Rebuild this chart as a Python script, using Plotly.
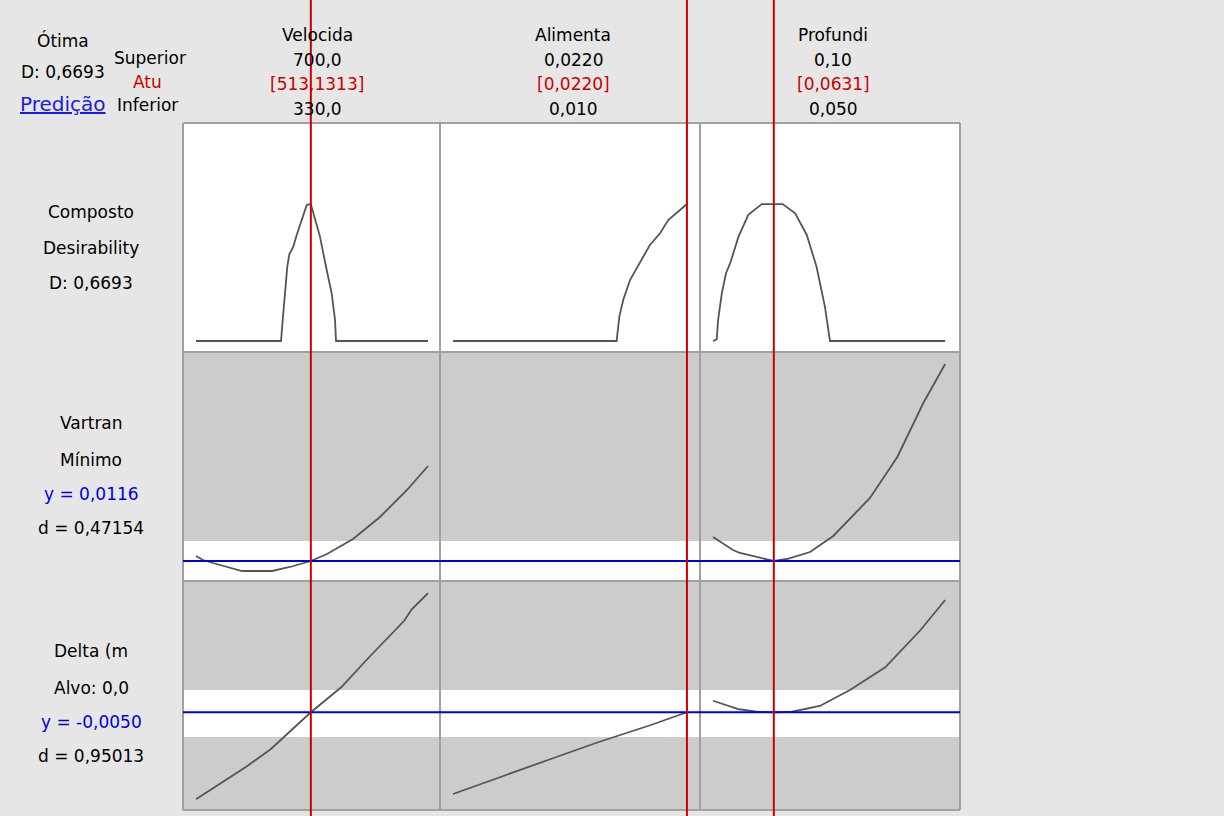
import plotly.graph_objects as go
from plotly.subplots import make_subplots

# ---- fatores (colunas) ----
factors = ["Velocida", "Alimenta", "Profundi"]
factor_high = ["700,0", "0,0220", "0,10"]
factor_low = ["330,0", "0,010", "0,050"]
factor_current_txt = ["[513,1313]", "[0,0220]", "[0,0631]"]
factor_current = [513.1313, 0.0220, 0.0631]
factor_ranges = [[309.3, 719.1], [0.00933, 0.02267], [0.0472, 0.1032]]

# ---- Composto (desirability) ----
comp_vel_x = [330, 465.6, 468.3, 471.9, 475.6, 478.8, 485.2, 490.6, 498.6, 506.6, 513.1,
              519.8, 527.7, 538.4, 546.4, 551.7, 553.3, 700]
comp_vel_y = [0, 0, 0.103, 0.233, 0.363, 0.424, 0.461, 0.518, 0.591, 0.664, 0.6693,
              0.599, 0.51, 0.347, 0.233, 0.103, 0, 0]
comp_ali_x = [0.0100, 0.01839, 0.01853, 0.01873, 0.01908, 0.01959, 0.0201, 0.02062, 0.02104, 0.0220]
comp_ali_y = [0, 0, 0.118, 0.2, 0.298, 0.38, 0.469, 0.526, 0.591, 0.6693]
comp_pro_x = [0.0500, 0.0508, 0.0511, 0.0519, 0.0528, 0.0537, 0.0555, 0.0576, 0.0605, 0.0631,
              0.0650, 0.0677, 0.0702, 0.0723, 0.0741, 0.0752, 0.1000]
comp_pro_y = [0, 0.008, 0.103, 0.233, 0.331, 0.38, 0.51, 0.616, 0.669, 0.6693,
              0.669, 0.624, 0.518, 0.363, 0.168, 0, 0]

# ---- Vartran (minimizar) ----
vart_vel_x = [330, 341.2, 357.1, 389.0, 403.4, 451.2, 479.9, 513.1, 538.9, 580.4, 623.4, 666.5, 700]
vart_vel_y = [0.01175, 0.01163, 0.01154, 0.01136, 0.01130, 0.01130, 0.01142, 0.01160,
              0.01181, 0.01226, 0.01292, 0.01373, 0.01445]
vart_ali_x = [0.0100, 0.0220]
vart_ali_y = [0.0116, 0.0116]
vart_pro_x = [0.0500, 0.0543, 0.0558, 0.0601, 0.0631, 0.0659, 0.0709, 0.0759, 0.0838, 0.0897, 0.0953, 0.1000]
vart_pro_y = [0.01232, 0.01193, 0.01184, 0.01169, 0.01160, 0.01166, 0.01187, 0.01235,
              0.01349, 0.01472, 0.01634, 0.01751]
vart_pred = 0.0116
vart_band = [0.0110, 0.0122]
vart_range = [0.0110, 0.01787]

# ---- Delta (alvo) ----
delta_vel_x = [330, 408.9, 449.1, 513.1, 561.6, 601.8, 662.0, 674.0, 700]
delta_vel_y = [-0.353, -0.225, -0.153, -0.005, 0.095, 0.204, 0.361, 0.407, 0.471]
delta_ali_x = [0.0100, 0.01253, 0.01512, 0.01744, 0.02015, 0.0220]
delta_ali_y = [-0.332, -0.26, -0.189, -0.125, -0.056, -0.005]
delta_pro_x = [0.0500, 0.0556, 0.0594, 0.0631, 0.0670, 0.0730, 0.0795, 0.0871, 0.0947, 0.1000]
delta_pro_y = [0.041, 0.007, -0.003, -0.005, -0.003, 0.02, 0.084, 0.175, 0.324, 0.444]
delta_pred = -0.0050
delta_band = [-0.104, 0.084]
delta_range = [-0.396, 0.52]

comp_range = [-0.0537, 1.065]

W, H = 1224, 816
BG = "#E6E6E6"
GRAY = "#CCCCCC"
BORDER = "#A0A0A0"
CURVE = "#555555"
RED = "#CC0000"
BLUE = "#0000E0"
FONT = "DejaVu Sans"

col_px = [183, 440, 700, 960]
row_px = [123, 352, 581, 810]

fig = make_subplots(rows=3, cols=3, horizontal_spacing=0, vertical_spacing=0)

curves = [
    [(comp_vel_x, comp_vel_y), (comp_ali_x, comp_ali_y), (comp_pro_x, comp_pro_y)],
    [(vart_vel_x, vart_vel_y), (vart_ali_x, vart_ali_y), (vart_pro_x, vart_pro_y)],
    [(delta_vel_x, delta_vel_y), (delta_ali_x, delta_ali_y), (delta_pro_x, delta_pro_y)],
]
row_ranges = [comp_range, vart_range, delta_range]

for r in range(3):
    for c in range(3):
        xs, ys = curves[r][c]
        fig.add_trace(
            go.Scatter(x=xs, y=ys, mode="lines", line=dict(color=CURVE, width=1.8),
                       hoverinfo="skip", showlegend=False),
            row=r + 1, col=c + 1,
        )
        idx = r * 3 + c + 1
        sfx = "" if idx == 1 else str(idx)
        fig.layout["xaxis" + sfx].update(
            domain=[col_px[c] / W, col_px[c + 1] / W], range=factor_ranges[c],
            showticklabels=False, showgrid=False, zeroline=False, ticks="", showline=False,
        )
        fig.layout["yaxis" + sfx].update(
            domain=[1 - row_px[r + 1] / H, 1 - row_px[r] / H], range=row_ranges[r],
            showticklabels=False, showgrid=False, zeroline=False, ticks="", showline=False,
        )

shapes = []
# fundo dos painéis
for r, color in [(0, "white"), (1, GRAY), (2, GRAY)]:
    shapes.append(dict(type="rect", xref="paper", yref="paper",
                       x0=col_px[0] / W, x1=col_px[3] / W,
                       y0=1 - row_px[r + 1] / H, y1=1 - row_px[r] / H,
                       fillcolor=color, line=dict(width=0), layer="below"))
# faixas brancas
for c in range(3):
    shapes.append(dict(type="rect", xref=f"x{4 + c}", yref="y4",
                       x0=factor_ranges[c][0], x1=factor_ranges[c][1],
                       y0=vart_band[0], y1=vart_band[1],
                       fillcolor="white", line=dict(width=0), layer="below"))
    shapes.append(dict(type="rect", xref=f"x{7 + c}", yref="y7",
                       x0=factor_ranges[c][0], x1=factor_ranges[c][1],
                       y0=delta_band[0], y1=delta_band[1],
                       fillcolor="white", line=dict(width=0), layer="below"))
# grade dos painéis
for px in col_px:
    shapes.append(dict(type="line", xref="paper", yref="paper", x0=px / W, x1=px / W,
                       y0=1 - row_px[3] / H, y1=1 - row_px[0] / H,
                       line=dict(color=BORDER, width=2), layer="above"))
for py in row_px:
    shapes.append(dict(type="line", xref="paper", yref="paper", x0=col_px[0] / W, x1=col_px[3] / W,
                       y0=1 - py / H, y1=1 - py / H,
                       line=dict(color=BORDER, width=2), layer="above"))
# linhas azuis (resposta prevista)
shapes.append(dict(type="line", xref="paper", yref="y4", x0=col_px[0] / W, x1=col_px[3] / W,
                   y0=vart_pred, y1=vart_pred, line=dict(color=BLUE, width=2)))
shapes.append(dict(type="line", xref="paper", yref="y7", x0=col_px[0] / W, x1=col_px[3] / W,
                   y0=delta_pred, y1=delta_pred, line=dict(color=BLUE, width=2)))
# linhas vermelhas (configuração atual)
for c in range(3):
    shapes.append(dict(type="line", xref="x" + ("" if c == 0 else str(c + 1)), yref="paper",
                       x0=factor_current[c], x1=factor_current[c], y0=0, y1=1,
                       line=dict(color=RED, width=2)))

fig.update_layout(shapes=shapes)


def txt(x, y, s, color="black", size=17):
    fig.add_annotation(x=x / W, y=1 - y / H, xref="paper", yref="paper", text=s,
                       showarrow=False, xanchor="center", yanchor="middle",
                       font=dict(family=FONT, size=size, color=color))


# cabeçalho
txt(63, 40, "Ótima")
txt(63, 72, "D: 0,6693")
txt(63, 104, '<span style="text-decoration:underline">Predição</span>', color="#1A1AE6", size=20)
txt(150, 58, "Superior")
txt(147, 82, "Atu", color=RED)
txt(147, 105, "Inferior")

col_centers = [317, 573, 833]
for c in range(3):
    txt(col_centers[c], 35, factors[c])
    txt(col_centers[c], 60, factor_high[c])
    txt(col_centers[c], 84, factor_current_txt[c], color=RED)
    txt(col_centers[c], 109, factor_low[c])

# rótulos das linhas
txt(91, 212, "Composto")
txt(91, 248, "Desirability")
txt(91, 283, "D: 0,6693")
txt(91, 423, "Vartran")
txt(91, 460, "Mínimo")
txt(91, 494, "y = 0,0116", color=BLUE)
txt(91, 528, "d = 0,47154")
txt(91, 651, "Delta (m")
txt(91, 688, "Alvo: 0,0")
txt(91, 722, "y = -0,0050", color=BLUE)
txt(91, 756, "d = 0,95013")

fig.update_layout(
    width=W, height=H,
    margin=dict(l=0, r=0, t=0, b=0),
    paper_bgcolor=BG, plot_bgcolor="rgba(0,0,0,0)",
    font=dict(family=FONT, size=17, color="black"),
    showlegend=False,
)

fig.write_html(
    "out.html",
    config={"displayModeBar": False},
    post_script="document.body.style.margin='0';document.body.style.overflow='hidden';",
)
